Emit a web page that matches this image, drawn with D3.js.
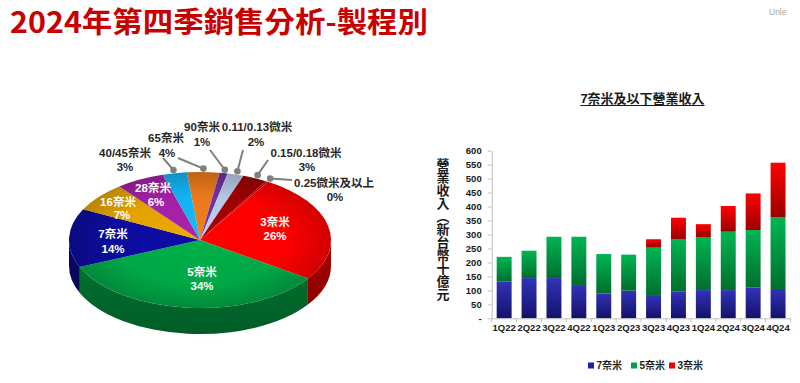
<!DOCTYPE html>
<html><head><meta charset="utf-8">
<script src="https://cdn.jsdelivr.net/npm/d3@7"></script>
<style>
html,body{margin:0;padding:0;background:#fff;}
svg{display:block;font-family:"Liberation Sans","Noto Sans CJK TC",sans-serif;}
</style></head>
<body>
<svg id="c" width="800" height="383"></svg>
<script>
// ---------- data ----------
const titleText = "2024年第四季銷售分析-製程別";
const pieLabels = ["65奈米","90奈米","0.11/0.13微米","0.15/0.18微米","0.25微米及以上","3奈米","5奈米","7奈米","16奈米","28奈米","40/45奈米"];
const pieValues = [4,1,2,3,0.3,26,34,14,7,6,3];
const pieColors = ["#e8791c","#7030a0","#b4c8e4","#a00000","#c40000","#ff0000","#00a846","#0c0c9e","#e2a200","#a321a3","#12b2f0"];

const barTitle = "7奈米及以下營業收入";
const yTitle = "營業收入（新台幣十億元";
const quarters = ["1Q22","2Q22","3Q22","4Q22","1Q23","2Q23","3Q23","4Q23","1Q24","2Q24","3Q24","4Q24"];
const rev7nm = [132,144,144,119,89,99,80,95,101,101,110,105];
const rev5nm = [88,98,148,173,141,129,173,189,190,209,206,256];
const rev3nm = [0,0,0,0,0,0,30,76,46,92,131,196];
const seriesNames = ["7奈米","5奈米","3奈米"];
const yTicks = [0,50,100,150,200,250,300,350,400,450,500,550,600];

// ---------- layout ----------
const svg = d3.select("#c");
const defs = svg.append("defs");
const CJK = "'Liberation Sans','Noto Sans CJK TC',sans-serif";

svg.append("text").attr("x",10).attr("y",33)
  .attr("font-family","'Noto Sans CJK TC',sans-serif").attr("font-weight",700)
  .attr("font-size",29).attr("fill","#c80000")
  .attr("textLength",418).attr("lengthAdjust","spacingAndGlyphs")
  .text(titleText);
svg.append("text").attr("x",769).attr("y",15).attr("font-size",8.5)
  .attr("fill","#a6a6a6").attr("font-family","'Liberation Sans',sans-serif").text("Unle");

// ---------- 3D pie ----------
const cx=200, cy=240, rx=131, ry=68, depth=26;
const off = -0.1005;
const pie = d3.pie().sort(null).value(d=>d).startAngle(off).endAngle(2*Math.PI+off);
const arcs = pie(pieValues);
const P = (a,f=1,dy=0)=>[cx+rx*f*Math.sin(a), cy-ry*f*Math.cos(a)+dy];

const gPie = svg.append("g");
arcs.forEach((d,i)=>{
  const s=Math.max(d.startAngle,Math.PI/2), e=Math.min(d.endAngle,3*Math.PI/2);
  if(e<=s) return;
  const p0=P(s),p1=P(e),p2=P(e,1,depth),p3=P(s,1,depth);
  const gid="side"+i;
  const lg=defs.append("linearGradient").attr("id",gid).attr("x1",0).attr("y1",0).attr("x2",0).attr("y2",1);
  const c=d3.color(pieColors[i]);
  lg.append("stop").attr("offset","0%").attr("stop-color",c.darker(1.1));
  lg.append("stop").attr("offset","100%").attr("stop-color",c.darker(1.7));
  gPie.append("path")
    .attr("d",`M${p0}A${rx},${ry} 0 0 1 ${p1}L${p2}A${rx},${ry} 0 0 0 ${p3}Z`)
    .attr("fill",`url(#${gid})`);
});
arcs.forEach((d,i)=>{
  const gid="top"+i;
  const rg=defs.append("radialGradient").attr("id",gid).attr("gradientUnits","userSpaceOnUse")
    .attr("cx",cx).attr("cy",cy).attr("r",rx)
    .attr("gradientTransform",`translate(${cx},${cy}) scale(1,${ry/rx}) translate(${-cx},${-cy})`);
  const c=d3.color(pieColors[i]);
  rg.append("stop").attr("offset","0%").attr("stop-color",c.brighter(0.15));
  rg.append("stop").attr("offset","65%").attr("stop-color",c);
  rg.append("stop").attr("offset","100%").attr("stop-color",c.darker(0.55));
  const p0=P(d.startAngle),p1=P(d.endAngle);
  const large=(d.endAngle-d.startAngle)>Math.PI?1:0;
  gPie.append("path")
    .attr("d",`M${cx},${cy}L${p0}A${rx},${ry} 0 ${large} 1 ${p1}Z`)
    .attr("fill",`url(#${gid})`);
});

const labelLayout = {
  "3奈米":{x:275,y:222,x2:275,y2:236,inside:true},
  "5奈米":{x:202,y:272,x2:202,y2:286,inside:true},
  "7奈米":{x:113,y:234,x2:113,y2:249,inside:true},
  "16奈米":{x:118,y:202,x2:122,y2:215,inside:true},
  "28奈米":{x:153,y:188,x2:156,y2:202,inside:true},
  "40/45奈米":{x:125,y:153,x2:125,y2:167,lx:163,ly:158},
  "65奈米":{x:166,y:138,x2:167,y2:153,lx:178,ly:158},
  "90奈米":{x:202,y:127,x2:202,y2:142,lx:210,ly:150},
  "0.11/0.13微米":{x:257,y:127,x2:256,y2:142,lx:243,ly:150},
  "0.15/0.18微米":{x:306,y:153,x2:307,y2:167,lx:268,ly:160},
  "0.25微米及以上":{x:334,y:183,x2:335,y2:197,lx:292,ly:180}
};
const gLab = svg.append("g").attr("font-family",CJK).attr("font-weight",700)
  .attr("font-size",11.5).attr("text-anchor","middle").attr("dominant-baseline","central");
arcs.forEach((d,i)=>{
  const name=pieLabels[i], L=labelLayout[name];
  const col=L.inside?"#ffffff":"#262626";
  if(!L.inside){
    const m=(d.startAngle+d.endAngle)/2;
    const dot=P(m,1.05);
    gLab.append("line").attr("x1",L.lx).attr("y1",L.ly).attr("x2",dot[0]).attr("y2",dot[1])
      .attr("stroke","#7f7f7f").attr("stroke-width",2);
    gLab.append("circle").attr("cx",dot[0]).attr("cy",dot[1]).attr("r",3.3).attr("fill","#7f7f7f");
  }
  gLab.append("text").attr("x",L.x).attr("y",L.y).attr("fill",col).text(name);
  gLab.append("text").attr("x",L.x2).attr("y",L.y2).attr("fill",col).text(Math.round(d.data)+"%");
});

// ---------- stacked bar chart ----------
const x = d3.scaleBand().domain(quarters).range([491.7,790.5]).paddingInner(0.4).paddingOuter(0.2);
const y = d3.scaleLinear().domain([0,600]).range([318.3,150.7]);
const table = quarters.map((q,i)=>({q, "7奈米":rev7nm[i], "5奈米":rev5nm[i], "3奈米":rev3nm[i]}));
const stack = d3.stack().keys(seriesNames)(table);
const barCols = {"7奈米":["#3232b8","#12126a"],"5奈米":["#00b552","#006e2e"],"3奈米":["#ff0000","#9a0000"]};
const legendCols = {"7奈米":"#1f1fa8","5奈米":"#00a347","3奈米":"#ee0000"};
seriesNames.forEach((k,si)=>{
  const lg=defs.append("linearGradient").attr("id","bar"+si).attr("x1",0).attr("y1",0).attr("x2",0).attr("y2",1);
  lg.append("stop").attr("offset","0%").attr("stop-color",barCols[k][0]);
  lg.append("stop").attr("offset","100%").attr("stop-color",barCols[k][1]);
});
const gBars = svg.append("g");
stack.forEach((s,si)=>{
  gBars.selectAll(null).data(s.filter(d=>d[1]-d[0]>0)).join("rect")
    .attr("x",d=>x(d.data.q)).attr("width",x.bandwidth())
    .attr("y",d=>y(d[1])).attr("height",d=>y(d[0])-y(d[1]))
    .attr("fill",`url(#bar${si})`);
});

const yAxis = svg.append("g").attr("transform",`translate(${491.7},0)`)
  .call(d3.axisLeft(y).tickValues(yTicks).tickSize(4).tickSizeOuter(0).tickPadding(6)
    .tickFormat(d=>d===0?"-":d));
yAxis.selectAll("path,line").attr("stroke","#bfbfbf");
yAxis.selectAll("text").attr("font-family","'Liberation Sans',sans-serif").attr("font-weight",700)
  .attr("font-size",9.5).attr("fill","#1a1a1a");

const xAxis = svg.append("g").attr("transform",`translate(0,${y(0)})`)
  .call(d3.axisBottom(x).tickSize(0).tickSizeOuter(0).tickPadding(6));
xAxis.select(".domain").attr("stroke","#bfbfbf");
xAxis.selectAll("text").attr("font-family","'Liberation Sans',sans-serif").attr("font-weight",700)
  .attr("font-size",9.5).attr("fill","#1a1a1a");
const bounds = quarters.map(q=>x(q)-x.step()*0.2).concat([x(quarters[quarters.length-1])+x.bandwidth()+x.step()*0.2]);
xAxis.selectAll(".bt").data(bounds).join("line").attr("class","bt")
  .attr("x1",d=>d).attr("x2",d=>d).attr("y1",0).attr("y2",4).attr("stroke","#bfbfbf");

// y title (vertical writing mode, single text)
svg.append("text").attr("x",443).attr("y",158)
  .attr("style","writing-mode: vertical-rl;")
  .attr("font-family","'Noto Sans CJK TC',sans-serif").attr("font-weight",700)
  .attr("font-size",13).attr("fill","#1a1a1a").text(yTitle);

const bt = svg.append("text").attr("x",642.5).attr("y",103).attr("text-anchor","middle")
  .attr("font-family",CJK).attr("font-weight",700).attr("font-size",13).attr("fill","#1a1a1a").text(barTitle);
const bb = bt.node().getBBox();
svg.append("line").attr("x1",bb.x).attr("x2",bb.x+bb.width).attr("y1",105.5).attr("y2",105.5)
  .attr("stroke","#1a1a1a").attr("stroke-width",1.2);

const legX = {"7奈米":588,"5奈米":631,"3奈米":669};
const gLeg = svg.append("g").attr("font-family",CJK).attr("font-weight",700).attr("font-size",10);
seriesNames.forEach(k=>{
  gLeg.append("rect").attr("x",legX[k]).attr("y",362.5).attr("width",6).attr("height",6).attr("fill",legendCols[k]);
  gLeg.append("text").attr("x",legX[k]+8.5).attr("y",365.5).attr("dominant-baseline","central").attr("fill","#1a1a1a").text(k);
});
</script>
</body></html>
